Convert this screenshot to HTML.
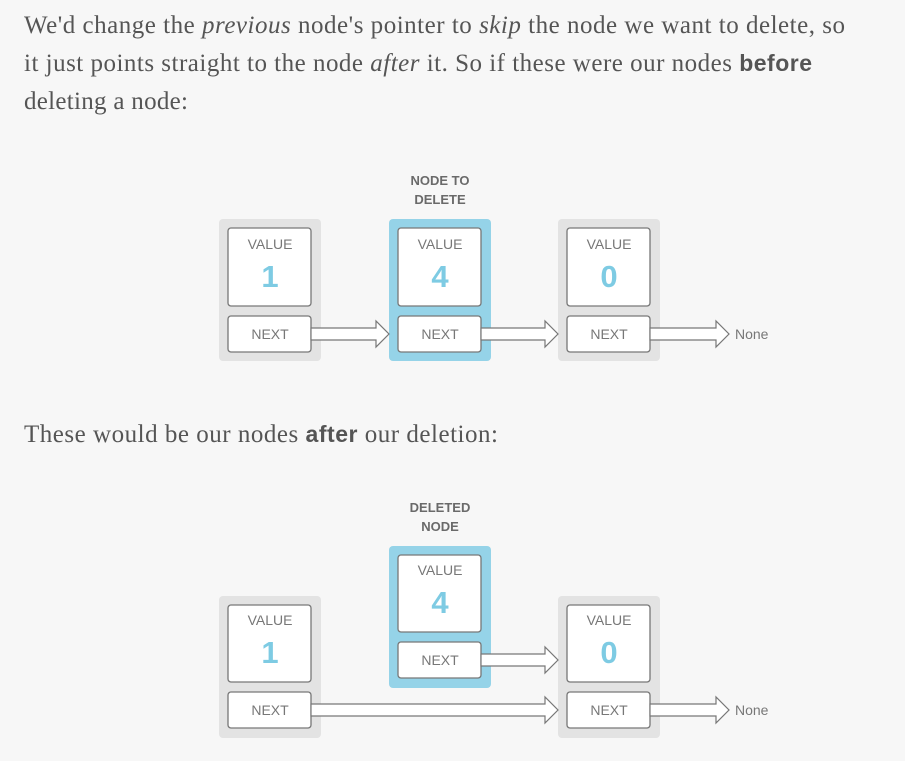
<!DOCTYPE html>
<html><head><meta charset="utf-8"><style>
html,body{margin:0;padding:0;background:#f7f7f7;}
svg{display:block}
.p{font-family:"Liberation Serif",serif;font-size:25px;fill:#555}
.b{font-family:"Liberation Sans",sans-serif;font-weight:bold;fill:#555;font-size:23px}
.i{font-style:italic}
.lbl{font-family:"Liberation Sans",sans-serif;font-size:14px;fill:#777;text-anchor:middle}
.num{font-family:"Liberation Sans",sans-serif;font-size:31px;font-weight:bold;fill:#7ecbe3;text-anchor:middle}
.hd{font-family:"Liberation Sans",sans-serif;font-size:13px;font-weight:bold;fill:#6a6a6a;text-anchor:middle}
.in{fill:#fff;stroke:#777;stroke-width:1.3}
.ar{fill:#fff;stroke:#777;stroke-width:1.2}
</style></head><body>
<svg width="905" height="761" viewBox="0 0 905 761">
<text class="p" x="24" y="33" textLength="821" lengthAdjust="spacing">We'd change the <tspan class="i">previous</tspan> node's pointer to <tspan class="i">skip</tspan> the node we want to delete, so</text>
<text class="p" x="24" y="71" textLength="788" lengthAdjust="spacing">it just points straight to the node <tspan class="i">after</tspan> it. So if these were our nodes <tspan class="b">before</tspan></text>
<text class="p" x="24" y="109" textLength="164" lengthAdjust="spacing">deleting a node:</text>
<text class="p" x="24" y="442" textLength="474" lengthAdjust="spacing">These would be our nodes <tspan class="b">after</tspan> our deletion:</text>

<text class="hd" x="440" y="185">NODE TO</text>
<text class="hd" x="440" y="204">DELETE</text>
<rect x="219" y="219" width="102" height="142" rx="4" fill="#e3e3e3"/>
<rect x="389" y="219" width="102" height="142" rx="4" fill="#95d3e8"/>
<rect x="558" y="219" width="102" height="142" rx="4" fill="#e3e3e3"/>
<rect class="in" x="228" y="228" width="83" height="78" rx="3"/><rect class="in" x="228" y="316" width="83" height="36" rx="3"/>
<text class="lbl" x="270" y="249">VALUE</text><text class="num" x="270" y="287">1</text><text class="lbl" x="270" y="339">NEXT</text>
<rect class="in" x="398" y="228" width="83" height="78" rx="3"/><rect class="in" x="398" y="316" width="83" height="36" rx="3"/>
<text class="lbl" x="440" y="249">VALUE</text><text class="num" x="440" y="287">4</text><text class="lbl" x="440" y="339">NEXT</text>
<rect class="in" x="567" y="228" width="83" height="78" rx="3"/><rect class="in" x="567" y="316" width="83" height="36" rx="3"/>
<text class="lbl" x="609" y="249">VALUE</text><text class="num" x="609" y="287">0</text><text class="lbl" x="609" y="339">NEXT</text>
<polygon class="ar" points="311,328 376,328 376,321 389,334 376,347 376,340 311,340"/>
<polygon class="ar" points="481,328 545,328 545,321 558,334 545,347 545,340 481,340"/>
<polygon class="ar" points="650,328 716,328 716,321 729,334 716,347 716,340 650,340"/>
<text class="lbl" x="735" y="339" style="text-anchor:start">None</text>

<text class="hd" x="440" y="512">DELETED</text>
<text class="hd" x="440" y="531">NODE</text>
<rect x="219" y="596" width="102" height="142" rx="4" fill="#e3e3e3"/>
<rect x="389" y="546" width="102" height="142" rx="4" fill="#95d3e8"/>
<rect x="558" y="596" width="102" height="142" rx="4" fill="#e3e3e3"/>
<rect class="in" x="228" y="605" width="83" height="77" rx="3"/><rect class="in" x="228" y="692" width="83" height="36" rx="3"/>
<text class="lbl" x="270" y="625">VALUE</text><text class="num" x="270" y="663">1</text><text class="lbl" x="270" y="715">NEXT</text>
<rect class="in" x="398" y="555" width="83" height="77" rx="3"/><rect class="in" x="398" y="642" width="83" height="36" rx="3"/>
<text class="lbl" x="440" y="575">VALUE</text><text class="num" x="440" y="613">4</text><text class="lbl" x="440" y="665">NEXT</text>
<rect class="in" x="567" y="605" width="83" height="77" rx="3"/><rect class="in" x="567" y="692" width="83" height="36" rx="3"/>
<text class="lbl" x="609" y="625">VALUE</text><text class="num" x="609" y="663">0</text><text class="lbl" x="609" y="715">NEXT</text>
<polygon class="ar" points="481,654 545,654 545,647 558,660 545,673 545,666 481,666"/>
<polygon class="ar" points="311,704 545,704 545,697 558,710 545,723 545,716 311,716"/>
<polygon class="ar" points="650,704 716,704 716,697 729,710 716,723 716,716 650,716"/>
<text class="lbl" x="735" y="715" style="text-anchor:start">None</text>
</svg>
</body></html>
